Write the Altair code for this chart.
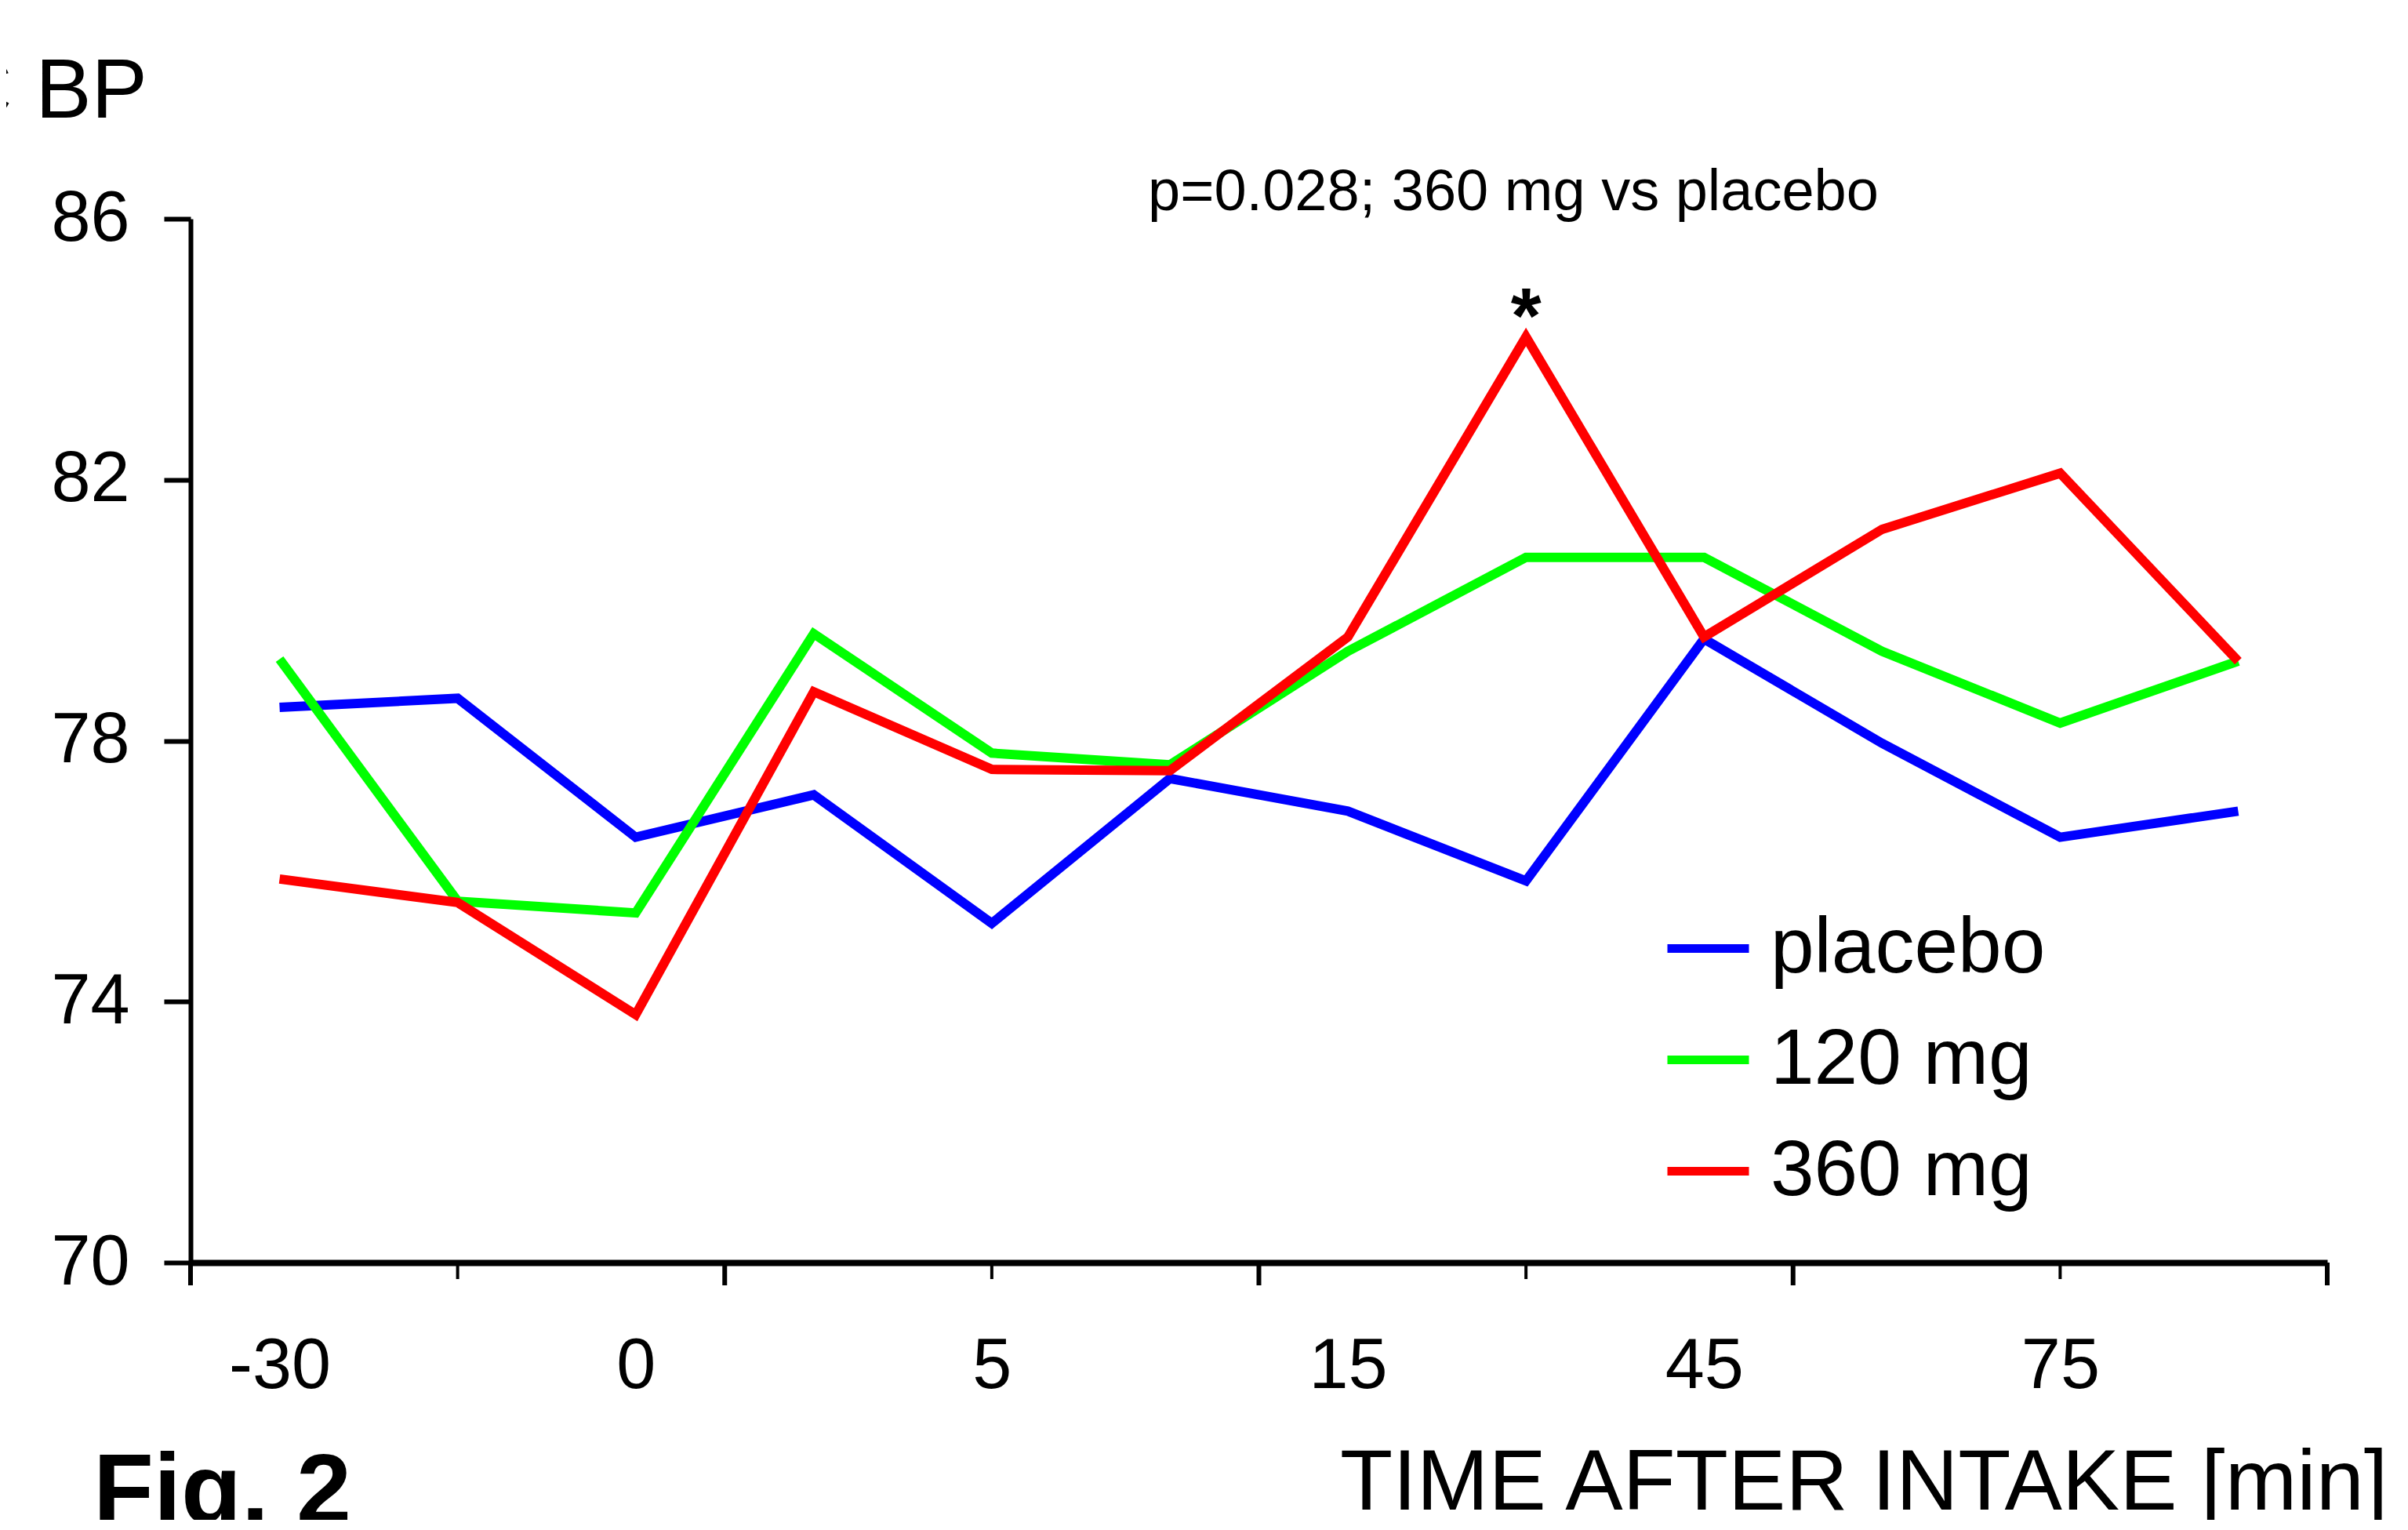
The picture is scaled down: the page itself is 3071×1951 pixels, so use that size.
import altair as alt
import pandas as pd

# ---- data ----
series_names = ["placebo", "120 mg", "360 mg"]
series_colors = ["#0000FF", "#00FF00", "#FF0000"]
x_labels = ["-30", "", "0", "", "5", "", "15", "", "45", "", "75", ""]
placebo = [78.51, 78.65, 76.52, 77.17, 75.20, 77.42, 76.92, 75.85, 79.56, 77.96, 76.52, 76.92]
mg120 = [79.25, 75.54, 75.36, 79.64, 77.81, 77.63, 79.37, 80.81, 80.81, 79.37, 78.27, 79.22]
mg360 = [75.88, 75.52, 73.80, 78.75, 77.56, 77.54, 79.59, 84.19, 79.59, 81.24, 82.10, 79.22]
y_ticks = [70, 74, 78, 82, 86]
major_ticks = [0, 3, 6, 9, 12]
minor_ticks = [1.5, 4.5, 7.5, 10.5]
star_index = 7
star_value = 84.19

FONT = "Liberation Sans"
W, H = 2725, 1331

rows = []
for name, vals in zip(series_names, [placebo, mg120, mg360]):
    for i, v in enumerate(vals):
        rows.append({"series": name, "pos": i + 0.5, "value": v})
df = pd.DataFrame(rows)

label_pos = [i + 0.5 for i, l in enumerate(x_labels) if l != ""]
label_expr = "[" + ",".join("'" + l + "'" for l in x_labels) + "][floor(datum.value)]"

xscale = alt.Scale(domain=[0, 12], nice=False, zero=False)
yscale = alt.Scale(domain=[70, 86], nice=False, zero=False)

x_axis = alt.Axis(values=label_pos, labelExpr=label_expr, ticks=False, tickSize=0,
                  domainWidth=8, domainColor="black", labelFontSize=90, labelFont=FONT,
                  labelColor="black", labelPadding=88, labelBaseline="top",
                  labelOverlap=False, labelFlush=False, grid=False, title=None)
y_axis = alt.Axis(values=y_ticks, domainWidth=6, domainColor="black", tickWidth=6,
                  tickSize=34, tickColor="black", labelFontSize=90, labelFont=FONT,
                  labelColor="black", labelPadding=44, labelOverlap=False,
                  labelFlush=False, grid=False, title=None)

color = alt.Color("series:N",
                  scale=alt.Scale(domain=series_names, range=series_colors),
                  legend=alt.Legend(orient="none", legendX=1878, legendY=873, title=None,
                                    symbolType="stroke", symbolSize=10816,
                                    symbolStrokeWidth=11, labelFontSize=100,
                                    labelFont=FONT, labelColor="black", labelOffset=22,
                                    labelLimit=2000, rowPadding=34, padding=0))

X = alt.X("pos:Q", scale=xscale, axis=x_axis)
Y = alt.Y("value:Q", scale=yscale, axis=y_axis)

layers = []
for name in series_names:
    layers.append(
        alt.Chart(df).transform_filter(alt.datum.series == name)
        .mark_line(strokeWidth=12)
        .encode(x=X, y=Y, color=color, order="pos:Q")
    )

ticks_df = pd.DataFrame({"pos": major_ticks + minor_ticks,
                         "kind": ["major"] * len(major_ticks) + ["minor"] * len(minor_ticks)})
major_rule = alt.Chart(ticks_df).transform_filter(alt.datum.kind == "major").mark_rule(
    strokeWidth=6, color="black").encode(x=X, y=alt.value(H), y2=alt.value(H + 29))
minor_rule = alt.Chart(ticks_df).transform_filter(alt.datum.kind == "minor").mark_rule(
    strokeWidth=4, color="black").encode(x=X, y=alt.value(H), y2=alt.value(H + 21))

star = alt.Chart(pd.DataFrame({"pos": [star_index + 0.5], "value": [star_value], "t": ["*"]})).mark_text(
    fontSize=100, fontWeight="bold", font=FONT, color="black", baseline="alphabetic",
    align="center", dy=7).encode(x=X, y=Y, text="t:N")


def label(text, x, y, size, align="left", weight="normal"):
    return alt.Chart(pd.DataFrame({"t": [text]})).mark_text(
        fontSize=size, font=FONT, fontWeight=weight, color="black", align=align,
        baseline="alphabetic").encode(x=alt.value(x), y=alt.value(y), text="t:N")


texts = [
    label("p=0.028; 360 mg vs placebo", 1687, -11, 74, align="center"),
    label("DIASTOLIC BP", -55, -129, 107, align="right"),
    label("Fig. 2", -124, 1663, 126, weight="bold"),
    label("TIME AFTER INTAKE [min]", 1466, 1646, 110),
]

chart = alt.layer(*layers, major_rule, minor_rule, star, *texts).properties(
    width=W, height=H,
    autosize=alt.AutoSizeParams(type="none"),
    padding={"left": 235, "top": 271, "right": 95, "bottom": 328},
    background="white",
).configure_view(stroke=None)

chart.save("out.html", embed_options={"renderer": "svg", "actions": False})
